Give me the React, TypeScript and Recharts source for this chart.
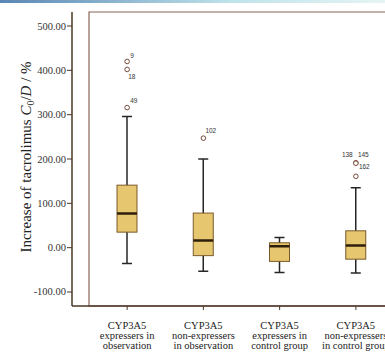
import React from "react";
import {
  ComposedChart,
  Bar,
  Scatter,
  XAxis,
  YAxis,
  ReferenceArea,
} from "recharts";

// groups on the x axis (lines split on \n)
const categories = [
  "CYP3A5\nexpressers in\nobservation",
  "CYP3A5\nnon-expressers\nin observation",
  "CYP3A5\nexpressers in\ncontrol group",
  "CYP3A5\nnon-expressers\nin control group",
];

// box plot statistics, one entry per group
const lowWhisker = [-36, -53, -56, -57];
const lowerQuartile = [35, -18, -31, -26];
const medians = [77, 16, 3, 5];
const upperQuartile = [141, 78, 11, 38];
const highWhisker = [296, 200, 23, 135];

// outliers: case number, group index, value
const outlierIds = [9, 18, 49, 102, 138, 145, 162];
const outlierGroup = [0, 0, 0, 1, 3, 3, 3];
const outlierValues = [420, 402, 316, 247, 191.5, 190.5, 161];

const yTicks = [-100, 0, 100, 200, 300, 400, 500];

// where each case number sits next to its circle
const labelOffset: Record<number, [number, number]> = {
  9: [3, -3],
  18: [1, 10],
  49: [3, -5],
  102: [2, -5],
  138: [-14, -6],
  145: [2, -6],
  162: [3, -7],
};

const boxes = categories.map((name, i) => ({
  name,
  range: [lowWhisker[i], highWhisker[i]],
  q1: lowerQuartile[i],
  med: medians[i],
  q3: upperQuartile[i],
}));

const outliers = outlierIds.map((id, i) => ({
  id,
  name: categories[outlierGroup[i]],
  value: outlierValues[i],
}));

const serif = "'Liberation Serif', 'Times New Roman', serif";

const BoxShape = (props: any) => {
  const { x, y, width, height, payload } = props;
  const [lo, hi] = payload.range;
  const top = Math.min(y, y + height);
  const bottom = Math.max(y, y + height);
  // linear mapping taken from the bar the scale produced
  const toY = (v: number) => bottom - ((v - lo) / (hi - lo)) * (bottom - top);
  const cx = x + width / 2;
  const cap = 5;
  return (
    <g>
      <line x1={cx} x2={cx} y1={top} y2={bottom} stroke="#262626" strokeWidth={1.5} />
      <line x1={cx - cap} x2={cx + cap} y1={top} y2={top} stroke="#262626" strokeWidth={1.5} />
      <line x1={cx - cap} x2={cx + cap} y1={bottom} y2={bottom} stroke="#262626" strokeWidth={1.5} />
      <rect
        x={x}
        y={toY(payload.q3)}
        width={width}
        height={toY(payload.q1) - toY(payload.q3)}
        fill="#e6c66e"
        stroke="#7a5a2a"
        strokeWidth={1}
      />
      <line
        x1={x}
        x2={x + width}
        y1={toY(payload.med)}
        y2={toY(payload.med)}
        stroke="#2e1f0c"
        strokeWidth={2.5}
      />
    </g>
  );
};

const OutlierShape = (props: any) => {
  const { cx, cy, payload } = props;
  const [dx, dy] = labelOffset[payload.id] || [3, -4];
  return (
    <g>
      <circle cx={cx} cy={cy} r={2.3} fill="#fff" stroke="#7a4a3a" strokeWidth={1} />
      <text
        x={cx + dx}
        y={cy + dy}
        style={{ fontSize: 6.5, fontFamily: "'Liberation Sans', Arial, sans-serif" }}
        fill="#333"
      >
        {payload.id}
      </text>
    </g>
  );
};

const CategoryTick = (props: any) => {
  const { x, y, payload } = props;
  const lines = String(payload.value).split("\n");
  return (
    <text
      x={x}
      y={y}
      textAnchor="middle"
      style={{ fontFamily: serif, fontSize: 10.5 }}
      fill="#222"
    >
      {lines.map((line, i) => (
        <tspan key={i} x={x} y={y + 17 + i * 10}>
          {line}
        </tspan>
      ))}
    </text>
  );
};

const ValueTick = (props: any) => {
  const { x, y, payload } = props;
  return (
    <text
      x={x}
      y={y}
      dy={3.5}
      textAnchor="end"
      style={{ fontFamily: serif, fontSize: 10.5 }}
      fill="#333"
    >
      {Number(payload.value).toFixed(2)}
    </text>
  );
};

const AxisTitle = () => (
  <text
    x={31}
    y={157}
    transform="rotate(-90 31 157)"
    textAnchor="middle"
    style={{ fontFamily: serif, fontSize: 15 }}
    fill="#222"
  >
    Increase of tacrolimus <tspan fontStyle="italic">C</tspan>
    <tspan fontSize={10} dy={3}>0</tspan>
    <tspan dy={-3}>/</tspan>
    <tspan fontStyle="italic">D</tspan> / %
  </text>
);

export default function App() {
  return (
    <div
      style={{
        position: "absolute",
        left: 0,
        top: 0,
        width: 385,
        height: 355,
        overflow: "hidden",
        background: "#fff",
      }}
    >
      <div
        style={{
          position: "absolute",
          left: 0,
          top: 0,
          width: 385,
          height: 3,
          background: "linear-gradient(to right, #5a86b4, #bfe3ea 60%, #e6f4f4)",
        }}
      />
      <svg width={60} height={355} style={{ position: "absolute", left: 0, top: 0 }}>
        <AxisTitle />
      </svg>
      <div style={{ position: "absolute", left: 0, top: 0 }}>
        <ComposedChart
          width={430}
          height={355}
          data={boxes}
          margin={{ top: 12, right: 19, bottom: 0, left: 0 }}
        >
          <ReferenceArea
            y1={-131.6}
            y2={531.6}
            fill="none"
            stroke="#8a6656"
            strokeWidth={1.2}
            ifOverflow="visible"
          />
          <XAxis
            dataKey="name"
            type="category"
            allowDuplicatedCategory={false}
            padding={{ left: 17, right: 17 }}
            height={49}
            interval={0}
            tickSize={4}
            tickLine={{ stroke: "#4a3626" }}
            axisLine={{ stroke: "#4a3626", strokeWidth: 1.5 }}
            tick={<CategoryTick />}
          />
          <YAxis
            type="number"
            domain={[-131.6, 531.6]}
            ticks={yTicks}
            allowDataOverflow
            width={72}
            tickSize={5}
            tickMargin={1}
            tick={<ValueTick />}
            tickLine={{ stroke: "#4a3626" }}
            axisLine={{ stroke: "#4a3626", strokeWidth: 1.5 }}
          />
          <Bar dataKey="range" barSize={20} shape={<BoxShape />} isAnimationActive={false} />
          <Scatter
            data={outliers}
            dataKey="value"
            shape={<OutlierShape />}
            isAnimationActive={false}
          />
        </ComposedChart>
      </div>
    </div>
  );
}
